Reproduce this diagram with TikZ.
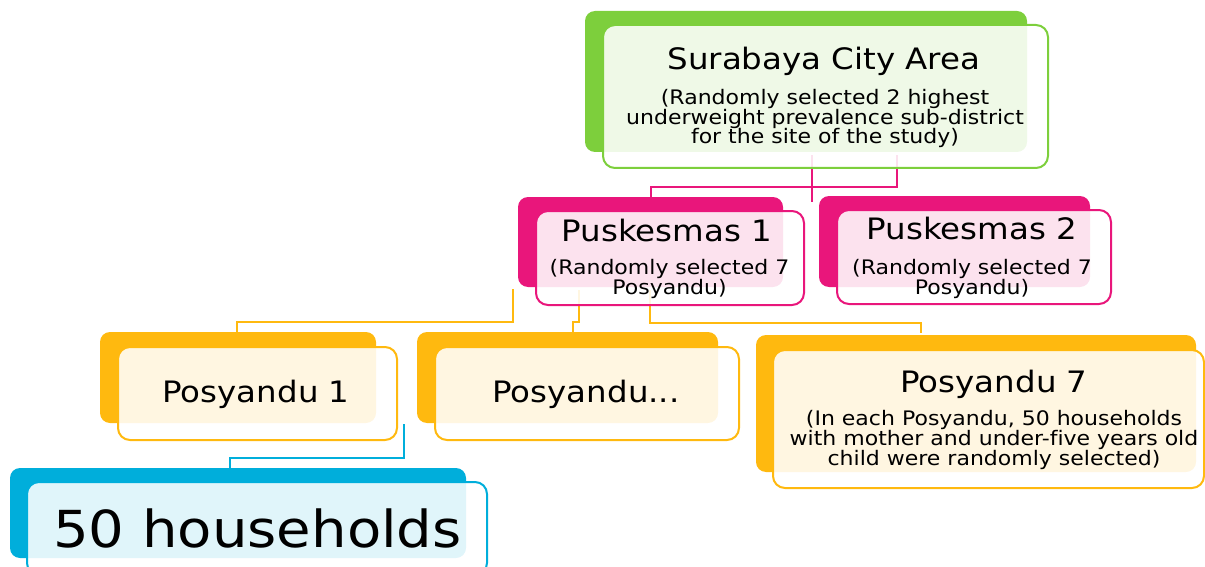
\documentclass[tikz,border=0pt]{standalone}
\usepackage{fontspec}
\setmainfont[FakeStretch=1.1, Ligatures=NoCommon]{DejaVu Sans}

\definecolor{citygreen}{RGB}{125,207,60}
\definecolor{puskpink}{RGB}{233,22,123}
\definecolor{posyorange}{RGB}{255,185,15}
\definecolor{houseblue}{RGB}{0,174,219}

\pgfdeclarelayer{background}
\pgfsetlayers{background,main}

\tikzset{
    backbox/.style={rectangle, rounded corners=10pt, inner sep=0pt, fill=#1, draw=none},
    frontbox/.style={rectangle, rounded corners=12pt, inner sep=0pt, line width=2pt,
        draw=#1, fill=white, fill opacity=0.88},
    boxtitle/.style={anchor=base, inner sep=0pt, font=\fontsize{29.5}{34}\selectfont},
    boxnote/.style={anchor=base, inner sep=0pt, align=center, font=\fontsize{20}{19.8}\selectfont},
    link/.style={line width=2pt, #1}
}

\begin{document}
\begin{tikzpicture}[x=1pt, y=-1pt]
    \useasboundingbox (0,0) rectangle (1205,567);

    % Surabaya City Area
    \node[backbox=citygreen, minimum width=442pt, minimum height=141pt] (cityback) at (806,81.5) {};
    \node[frontbox=citygreen, minimum width=445pt, minimum height=143pt] (city) at (825.5,96.5) {};
    \node[boxtitle] (citytitle) at (824,70) {Surabaya City Area};
    \node[boxnote] (citynote) at (825,144) {(Randomly selected 2 highest\\underweight prevalence sub-district\\for the site of the study)};

    % Puskesmas 1
    \node[backbox=puskpink, minimum width=265pt, minimum height=90pt] (pusk1back) at (650.5,242) {};
    \node[frontbox=puskpink, minimum width=268pt, minimum height=94pt] (pusk1) at (670,258) {};
    \node[boxtitle] (pusk1title) at (667,241) {Puskesmas 1};
    \node[boxnote] (pusk1note) at (669.5,294) {(Randomly selected 7\\Posyandu)};

    % Puskesmas 2
    \node[backbox=puskpink, minimum width=271pt, minimum height=91pt] (pusk2back) at (954.5,241.5) {};
    \node[frontbox=puskpink, minimum width=274pt, minimum height=94pt] (pusk2) at (974,257) {};
    \node[boxtitle] (pusk2title) at (972,239) {Puskesmas 2};
    \node[boxnote] (pusk2note) at (972,294) {(Randomly selected 7\\Posyandu)};

    % Posyandu 1
    \node[backbox=posyorange, minimum width=276pt, minimum height=91pt] (pos1back) at (238,377.5) {};
    \node[frontbox=posyorange, minimum width=279pt, minimum height=93pt] (pos1) at (257.5,393.5) {};
    \node[boxtitle] (pos1title) at (256,402) {Posyandu 1};

    % Posyandu ...
    \node[backbox=posyorange, minimum width=301pt, minimum height=91pt] (pos2back) at (567.5,377.5) {};
    \node[frontbox=posyorange, minimum width=304pt, minimum height=93pt] (pos2) at (587,393.5) {};
    \node[boxtitle] (pos2title) at (586,402) {Posyandu...};

    % Posyandu 7
    \node[backbox=posyorange, minimum width=440pt, minimum height=137pt] (pos7back) at (976,403.5) {};
    \node[frontbox=posyorange, minimum width=431pt, minimum height=138pt] (pos7) at (988.5,419) {};
    \node[boxtitle] (pos7title) at (994,392) {Posyandu 7};
    \node[boxnote] (pos7note) at (994,465) {(In each Posyandu, 50 households\\with mother and under-five years old\\child were randomly selected)};

    % 50 households
    \node[backbox=houseblue, minimum width=456pt, minimum height=90pt] (houseback) at (238,513) {};
    \node[frontbox=houseblue, minimum width=460pt, minimum height=93pt] (house) at (257,528.5) {};
    \node[boxtitle, font=\fontsize{51}{60}\selectfont] (housetitle) at (257.5,547) {50 households};

    % connectors, behind the boxes
    \coordinate (citytapL) at (812,155);
    \coordinate (citytapR) at (897,155);
    \coordinate (pusk1tapA) at (513,289);
    \coordinate (pusk1tapB) at (579,290);
    \coordinate (pusk1tapC) at (650,290);
    \coordinate (pos7tap) at (921,333);
    \coordinate (pos1tap) at (404,424);
    \coordinate (housetap) at (230,468);
    \begin{pgfonlayer}{background}
        % city to Puskesmas
        \draw[link=puskpink] (citytapL) -- ++(0,47);
        \draw[link=puskpink] (citytapR) -- ++(0,32) -| (pusk1back.north);
        % Puskesmas 1 to Posyandu
        \draw[link=posyorange] (pusk1tapA) -- ++(0,33) -| (pos1back.north -| 237,0);
        \draw[link=posyorange] (pusk1tapB) -- ++(0,32) -- ++(-6,0) -- ++(0,10);
        \draw[link=posyorange] (pusk1tapC) -- ++(0,33) -| (pos7tap);
        % Posyandu 1 to households
        \draw[link=houseblue] (pos1tap) -- ++(0,34) -| (housetap);
    \end{pgfonlayer}
\end{tikzpicture}
\end{document}
